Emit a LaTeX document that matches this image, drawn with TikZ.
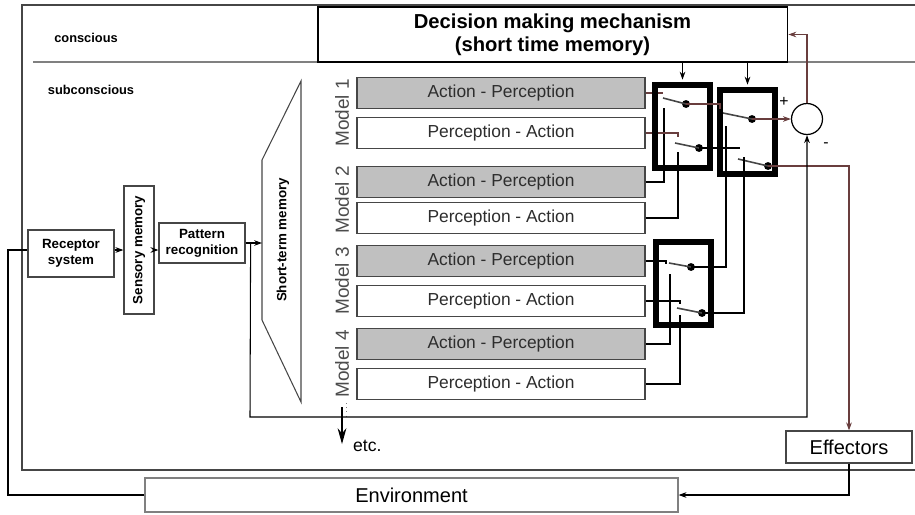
\documentclass[tikz,border=0pt]{standalone}
\usepackage{fontspec}
\setmainfont{Liberation Sans}
\usetikzlibrary{arrows.meta,positioning,calc}

\definecolor{boxgray}{RGB}{192,192,192}
\definecolor{edgegray}{RGB}{70,70,70}
\definecolor{textgray}{RGB}{45,45,45}
\definecolor{wirered}{RGB}{105,62,62}

\tikzset{
  wire/.style={line width=0.6pt,black},
  redwire/.style={line width=0.6pt,wirered},
  apbox/.style={draw=edgegray,fill=boxgray,line width=0.7pt,minimum width=5.76cm,minimum height=0.62cm,inner sep=0pt,text=textgray,font=\fontsize{9.9}{11}\selectfont},
  pabox/.style={apbox,fill=white},
  modlabel/.style={rotate=90,text=textgray!85,font=\fontsize{10.8}{12}\selectfont},
  smallbox/.style={draw=edgegray,line width=0.7pt,inner sep=0pt,align=center,font=\fontsize{7.6}{9}\selectfont\bfseries},
  plainbox/.style={draw=edgegray,line width=0.7pt,inner sep=0pt,font=\fontsize{11.4}{13}\selectfont},
  layer/.style={font=\fontsize{7.3}{9}\selectfont\bfseries},
  decbox/.style={draw=black,line width=1.1pt,minimum width=9.4cm,minimum height=1.1cm,align=center,font=\fontsize{11.5}{13}\selectfont\bfseries},
  switchbox/.style={draw=black,line width=3.1pt,minimum width=1.1cm,minimum height=1.66cm,inner sep=0pt},
  blade/.style={line width=0.9pt,edgegray},
  pivot/.style={circle,fill=black,inner sep=0pt,minimum size=4.5pt},
  >={Stealth[length=4.5pt,width=3.2pt]}
}

\begin{document}
\begin{tikzpicture}[x=0.02cm,y=-0.02cm]
  \useasboundingbox (0,0) rectangle (915,514);

  % conscious / subconscious frame
  \draw[edgegray,line width=0.9pt] (915,5) -- (22,5) -- (22,470) -- (915,470);
  \draw[gray,line width=0.9pt] (33,62) -- (915,62);
  \node[layer] (cons) at (86,38) {conscious};
  \node[layer] (subc) at (91,90) {subconscious};

  % decision making
  \node[decbox] (dec) at (552.5,34.5) {Decision making mechanism\\(short time memory)};

  % input chain
  \node[smallbox,minimum width=1.72cm,minimum height=0.94cm] (rec) at (71,253.5) {Receptor\\system};
  \node[smallbox,rotate=90,minimum width=2.56cm,minimum height=0.6cm] (sens) at (139,250) {Sensory memory};
  \node[smallbox,minimum width=1.72cm,minimum height=0.8cm] (pat) at (202,243) {Pattern\\recognition};

  % short-term memory
  \draw[edgegray,line width=0.6pt] (301,81) -- (262,160) -- (262,320) -- (301,402) -- cycle;
  \coordinate (stmL) at (262,240);
  \node[smallbox,draw=none,rotate=90] (stm) at (283,240) {Short-term memory};

  \draw[wire,->] (rec.east |- sens.center) -- (sens.north);
  \draw[wire,->] (sens.south) -- (sens.south -| pat.west);
  \draw[wire,->] (pat.east) -- (pat.east -| stmL);

  % models
  \foreach \k/\ya/\yp in {1/93/133, 2/182/218, 3/261/301, 4/344/384}{
    \node[apbox] (ap\k) at (501,\ya) {Action - Perception};
    \node[pabox] (pa\k) at (501,\yp) {Perception - Action};
    \node[modlabel] (ml\k) at (342,{(\ya+\yp)/2}) {Model \k};
  }

  % etc.
  \draw[gray,dotted] (346,403) -- (346,416);
  \coordinate (etctop) at (342,407);
  \coordinate (etcend) at (342,444);
  \draw[-{Stealth[length=9pt,width=5pt]},line width=0.6pt] (etctop) -- (etcend);
  \node[anchor=west,font=\fontsize{10}{12}\selectfont] (etc) at (347,446) {etc.};

  % summing point
  \node[draw,circle,line width=0.7pt,minimum size=0.62cm,inner sep=0pt] (sum) at (807,119) {};
  \node[font=\fontsize{9}{10}\selectfont] (plus) at (784,102) {+};
  \node[font=\fontsize{9}{10}\selectfont] (minus) at (826,145) {-};

  % switch inputs
  \coordinate (cA1a) at (663,93);   \coordinate (cA1b) at (664,108);
  \coordinate (cA2a) at (678,133);  \coordinate (cA2b) at (678,152);
  \coordinate (cC1a) at (666,261);  \coordinate (cC1b) at (670,274);
  \coordinate (cC2a) at (680,301);  \coordinate (cC2b) at (680,315);
  \coordinate (cB1a) at (720,109);  \coordinate (cB1b) at (726,126);
  \coordinate (cB2a) at (740,148);  \coordinate (cB2b) at (744,157);

  \draw[redwire] (ap1.east) -- (cA1a);
  \draw[wire] (ap2.east) -| (cA1b);
  \draw[redwire] (pa1.east) -- (cA2a) -- ++(0,4);
  \draw[wire] (pa2.east) -| (cA2b);
  \draw[wire] (ap3.east) -- (cC1a) -- ++(0,3);
  \draw[wire] (ap4.east) -| (cC1b);
  \draw[wire] (pa3.east) -- (cC2a) -- ++(0,3);
  \draw[wire] (pa4.east) -| (cC2b);

  % switches
  \foreach \s/\x/\y/\dx/\dy in {A1/686/104/23/6, A2/699/148/24/5, B1/752/119/29/6, B2/768/166/30/7, C1/691/267/22/4, C2/702/313/25/5}{
    \node[pivot] (p\s) at (\x,\y) {};
    \draw[blade] (p\s.center) -- ++(-\dx,-\dy);
  }
  \node[switchbox] (swA) at (682.5,126.5) {};
  \node[switchbox,minimum height=1.68cm] (swB) at (747.5,132) {};
  \node[switchbox] (swC) at (683.5,283.5) {};

  \draw[redwire] (pA1.center) -| (cB1a);
  \draw[wire] (pC1.center) -| (cB1b);
  \draw[wire] (pA2.center) -- (cB2a);
  \draw[wire] (pC2.center) -| (cB2b);

  \draw[wire,->,shorten >=1.5pt] (dec.south -| swA.north) -- (swA.north);
  \draw[wire,->,shorten >=1.5pt] (dec.south -| swB.north) -- (swB.north);

  % outputs
  \node[plainbox,minimum width=2.52cm,minimum height=0.64cm] (eff) at (849,447) {Effectors};
  \node[plainbox,draw=gray,minimum width=10.66cm,minimum height=0.68cm] (env) at (411.5,495) {Environment};

  \draw[redwire,->] (pB1.center) -- (sum.west);
  \draw[redwire,->] (pB2.center) -| (eff.north);
  \draw[redwire,->] (sum.north) |- (dec.east);
  \draw[wire,->] (eff.south) |- (env.east);

  % loops back
  \coordinate (brk) at ($(pat.east)+(5,0)$);
  \coordinate (loopbl) at (250,417);
  \draw[wire,->] (brk) -- (loopbl) -| (sum.south);
  \coordinate (fbl) at (8,250);
  \draw[wire] (env.west) -| (fbl) -- (rec.west |- fbl);
\end{tikzpicture}
\end{document}
